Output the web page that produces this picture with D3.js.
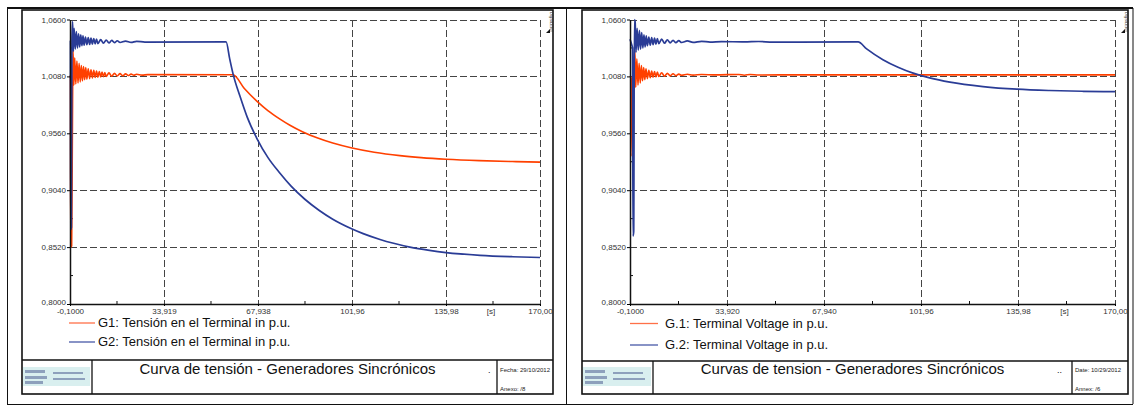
<!DOCTYPE html>
<meta charset="utf-8">
<style>
body { margin: 0; background: #fff; }
svg { font-family: "Liberation Sans", Arial, sans-serif; }
.tick text { fill: #333; }
.grid line { stroke: #444; stroke-width: 1; stroke-dasharray: 7,3; shape-rendering: crispEdges; }
.frame { fill: none; stroke: #111; }
</style>
<body>
<script src="https://d3js.org/d3.v7.min.js"></script>
<script>
// axis ticks (same y scale on both plots)
var yTicks = [0.8, 0.852, 0.904, 0.956, 1.008, 1.06];
var yLabels = ["0,8000", "0,8520", "0,9040", "0,9560", "1,0080", "1,0600"];
var xTicksLeft = [-0.1, 33.919, 67.938, 101.96, 135.98, 170.0];
var xLabelsLeft = ["-0,1000", "33,919", "67,938", "101,96", "135,98", "170,00"];
var xTicksRight = [-0.1, 33.92, 67.94, 101.96, 135.98, 170.0];
var xLabelsRight = ["-0,1000", "33,920", "67,940", "101,96", "135,98", "170,00"];

// left plot: [time s, voltage p.u.]
var g1Left = [[-0.1,1.0095],[0.05,1.0095],[0.15,0.852],[0.5,0.853],[0.75,0.95],[1.0,1.032],[1.3,1.000],
  [1.6,1.025],[2.0,1.001],[2.4,1.022],[2.8,1.002],[3.2,1.020],[3.6,1.003],[4.0,1.018],[4.4,1.004],
  [4.8,1.017],[5.2,1.005],[5.6,1.016],[6.0,1.0055],[6.5,1.015],[7.0,1.006],[7.5,1.014],[8.0,1.0065],
  [8.5,1.0135],[9.0,1.007],[9.5,1.013],[10,1.0072],[10.5,1.0125],[11,1.0075],[11.5,1.012],[12,1.0078],
  [12.5,1.0115],[13,1.008],[14,1.0112],[15,1.0082],[16,1.0108],[17,1.0084],[18,1.0105],[19,1.0086],
  [20,1.0103],[21,1.0088],[22,1.0101],[23,1.009],[24,1.0099],[26,1.0092],[28,1.0096],[58.9,1.0095],
  [63,0.9969],[67.6,0.9852],[71.5,0.9768],[75.9,0.9690],[79.5,0.9634],[84,0.9575],[89.3,0.9519],
  [95,0.9471],[101.6,0.9428],[110,0.9387],[119.3,0.9356],[127,0.9338],[136,0.9323],[148,0.9310],
  [160,0.9302],[170,0.9297]];
var g2Left = [[-0.1,1.041],[0.05,1.041],[0.15,0.868],[0.4,0.870],[0.6,1.04],[0.85,1.058],[1.1,1.031],
  [1.4,1.052],[1.8,1.033],[2.2,1.049],[2.6,1.034],[3.0,1.047],[3.4,1.035],[3.8,1.046],[4.2,1.036],
  [4.6,1.045],[5.0,1.0365],[5.5,1.044],[6.0,1.037],[6.5,1.0435],[7.0,1.0372],[7.5,1.043],[8.0,1.0375],
  [8.5,1.0425],[9.0,1.0378],[9.5,1.042],[10,1.038],[11,1.0416],[12,1.0383],[13,1.0412],[14,1.0386],
  [15,1.0409],[16,1.0388],[17,1.0406],[18,1.039],[20,1.0403],[22,1.0391],[24,1.0401],[27,1.0394],
  [56.4,1.0395],[57.7,1.024],[59,1.0094],[61.4,0.990],[64,0.971],[67.6,0.951],[71.5,0.934],
  [75.9,0.9195],[80,0.9075],[85,0.8955],[90,0.8857],[95,0.8775],[101.6,0.869],[106,0.8643],
  [112.1,0.859],[117,0.8555],[122.9,0.852],[130,0.849],[136,0.847],[148.3,0.8445],[160,0.8432],[170,0.8425]];

// right plot
var g1Right = [[-0.1,1.0085],[0.2,1.0075],[0.4,1.005],[0.6,0.935],[0.9,0.96],[1.3,1.02],[1.6,1.032],
  [1.9,0.998],[2.3,1.024],[2.7,1.000],[3.1,1.020],[3.5,1.002],[3.9,1.018],[4.3,1.004],[4.7,1.016],
  [5.1,1.005],[5.5,1.015],[6.0,1.006],[6.5,1.0135],[7.0,1.0068],[7.5,1.013],[8.0,1.0072],[8.5,1.0125],
  [9.0,1.0076],[9.5,1.012],[10,1.0079],[11,1.0113],[12,1.0082],[13,1.0108],[14,1.0085],[15,1.0104],
  [16,1.0087],[17,1.0101],[18,1.009],[20,1.0099],[22,1.0092],[25,1.0097],[30,1.0094],[38,1.0098],
  [40,1.0091],[42,1.0098],[45,1.0093],[60,1.0094],[120,1.0094],[170,1.0094]];
var g2Right = [[-0.1,1.042],[0.5,1.037],[0.8,1.034],[0.95,0.862],[1.2,0.866],[1.45,1.06],[1.7,1.058],
  [2.0,1.030],[2.4,1.052],[2.8,1.032],[3.2,1.050],[3.6,1.033],[4.0,1.048],[4.4,1.034],[4.8,1.046],
  [5.2,1.035],[5.6,1.045],[6.0,1.036],[6.5,1.044],[7.0,1.0365],[7.5,1.0435],[8.0,1.037],[8.5,1.043],
  [9.0,1.0375],[9.5,1.0425],[10,1.038],[11,1.042],[12,1.0383],[13,1.0415],[14,1.0386],[15,1.041],
  [16,1.0388],[17,1.0407],[18,1.039],[20,1.0404],[22,1.0391],[25,1.0401],[28,1.0393],[32,1.0398],
  [40,1.0395],[45,1.0399],[50,1.0393],[79.9,1.0395],[82.9,1.0331],[88.6,1.0233],[93.9,1.0164],
  [99.2,1.0110],[105,1.0066],[112.1,1.0027],[123.7,0.9987],[135.6,0.9963],[147,0.9951],
  [158.8,0.9944],[170,0.9940]];

var orange = "#ff4000", blue = "#2a3c96";
var legendColors = ["#ff7048", "#4858a8"];

var svg = d3.select("body").append("svg")
    .attr("width", 1135)
    .attr("height", 406);

// outer table lines
svg.append("line").attr("x1", 7).attr("x2", 1133).attr("y1", 8).attr("y2", 8).attr("stroke", "#111").attr("stroke-width", 2);
svg.append("line").attr("x1", 7).attr("x2", 1133).attr("y1", 404.5).attr("y2", 404.5).attr("stroke", "#111");
[7.5, 566.5, 1133].forEach(function(x) {
  svg.append("line").attr("x1", x).attr("x2", x).attr("y1", 8).attr("y2", 404).attr("stroke", "#111");
});

var panels = [
  { frame: [22, 10, 553, 394], plot: [70, 540], xTicks: xTicksLeft, xLabels: xLabelsLeft,
    series: [g1Left, g2Left], names: ["G1: Tensión en el Terminal in p.u.", "G2: Tensión en el Terminal in p.u."],
    legX: [69, 95, 98], legY: [323, 342], titleLine: 360, logoW: 70, dateX: 497,
    title: "Curva de tensión - Generadores Sincrónicos", titleX: 287.5, dots: ".", dotsX: 488,
    date: "Fecha: 29/10/2012", annex: "Anexo:  /8" },
  { frame: [582, 10, 1128, 394], plot: [630, 1115], xTicks: xTicksRight, xLabels: xLabelsRight,
    series: [g1Right, g2Right], names: ["G.1: Terminal Voltage in p.u.", "G.2: Terminal Voltage in p.u."],
    legX: [630, 658, 665], legY: [323.5, 345], titleLine: 361, logoW: 71, dateX: 1072,
    title: "Curvas de tension - Generadores Sincrónicos", titleX: 852.5, dots: "..", dotsX: 1057,
    date: "Date:  10/29/2012", annex: "Annex:  /6" }
];

panels.forEach(function(p) {
  var f = p.frame;
  var x = d3.scaleLinear().domain([-0.1, 170]).range(p.plot);
  var y = d3.scaleLinear().domain([0.8, 1.06]).range([304, 19.5]);

  // inner frame + title block
  svg.append("rect").attr("class", "frame")
      .attr("x", f[0]).attr("y", f[1]).attr("width", f[2] - f[0]).attr("height", f[3] - f[1])
      .attr("stroke-width", 1.6);
  svg.append("line").attr("x1", f[0]).attr("x2", f[2]).attr("y1", p.titleLine).attr("y2", p.titleLine)
      .attr("stroke", "#111").attr("stroke-width", 1.3);
  svg.append("line").attr("x1", f[0] + p.logoW).attr("x2", f[0] + p.logoW).attr("y1", p.titleLine).attr("y2", f[3])
      .attr("stroke", "#111").attr("stroke-width", 1.3);
  svg.append("line").attr("x1", p.dateX).attr("x2", p.dateX).attr("y1", p.titleLine).attr("y2", f[3])
      .attr("stroke", "#111").attr("stroke-width", 1.3);

  // logo stand-in
  var logo = svg.append("g").attr("transform", "translate(" + (f[0] + 1) + ",367)");
  logo.append("rect").attr("width", p.logoW - 3).attr("height", 19).attr("fill", "#d9efef");
  [[2,3,20,3],[2,9,22,3],[2,14,18,3],[30,5,30,2],[30,11,32,2]].forEach(function(r) {
    logo.append("rect").attr("x", r[0]).attr("y", r[1]).attr("width", r[2]).attr("height", r[3])
        .attr("fill", "#5a6a9a").attr("opacity", 0.6);
  });

  svg.append("text").attr("x", p.titleX).attr("y", 374).attr("text-anchor", "middle")
      .attr("font-size", "15px").attr("fill", "#111").text(p.title);
  svg.append("text").attr("x", p.dotsX).attr("y", 373).attr("font-size", "9px").attr("fill", "#111").text(p.dots);
  svg.append("text").attr("x", p.dateX + 3).attr("y", 372).attr("font-size", "6px").attr("fill", "#222").text(p.date);
  svg.append("text").attr("x", p.dateX + 3).attr("y", 391).attr("font-size", "6px").attr("fill", "#222").text(p.annex);

  // little tag top right
  svg.append("text").attr("transform", "translate(" + (f[2] - 3) + ",12) rotate(90)")
      .attr("font-size", "4px").attr("fill", "#333").text("DIgSILENT");
  svg.append("path").attr("d", "M" + (f[2] - 7) + ",33 l4,-4 v4 z").attr("fill", "#111");

  // grid
  var grid = svg.append("g").attr("class", "grid");
  grid.selectAll(".h").data(yTicks.slice(1)).enter().append("line")
      .attr("x1", p.plot[0]).attr("x2", p.plot[1])
      .attr("y1", function(d) { return Math.round(y(d)) + 0.5; })
      .attr("y2", function(d) { return Math.round(y(d)) + 0.5; });
  grid.selectAll(".v").data(p.xTicks.slice(1)).enter().append("line")
      .attr("y1", y(1.06)).attr("y2", y(0.8))
      .attr("x1", function(d) { return Math.round(x(d)) + 0.5; })
      .attr("x2", function(d) { return Math.round(x(d)) + 0.5; });

  // minor ticks at midpoints
  var minor = svg.append("g").attr("stroke", "#111");
  d3.range(yTicks.length - 1).forEach(function(i) {
    var yy = y((yTicks[i] + yTicks[i + 1]) / 2);
    minor.append("line").attr("x1", p.plot[0]).attr("x2", p.plot[0] + 3).attr("y1", yy).attr("y2", yy);
  });
  d3.range(p.xTicks.length - 1).forEach(function(i) {
    var xx = x((p.xTicks[i] + p.xTicks[i + 1]) / 2);
    minor.append("line").attr("x1", xx).attr("x2", xx).attr("y1", 304).attr("y2", 301);
  });

  // series
  var line = d3.line()
      .curve(d3.curveMonotoneX)
      .x(function(d) { return x(d[0]); })
      .y(function(d) { return y(d[1]); });
  svg.append("path").datum(p.series[0]).attr("d", line)
      .attr("fill", "none").attr("stroke", orange).attr("stroke-width", 1.6).attr("stroke-linejoin", "round");
  svg.append("path").datum(p.series[1]).attr("d", line)
      .attr("fill", "none").attr("stroke", blue).attr("stroke-width", 1.7).attr("stroke-linejoin", "round");

  // axes
  var yAxis = svg.append("g").attr("transform", "translate(" + p.plot[0] + ",0)")
      .call(d3.axisLeft(y).tickValues(yTicks).tickSize(3).tickSizeOuter(0).tickPadding(1)
        .tickFormat(function(d, i) { return yLabels[i]; }));
  var xAxis = svg.append("g").attr("transform", "translate(0,304)")
      .call(d3.axisBottom(x).tickValues(p.xTicks).tickSize(2).tickSizeOuter(0).tickPadding(2.3)
        .tickFormat(function(d, i) { return p.xLabels[i]; }));
  [yAxis, xAxis].forEach(function(a) {
    a.attr("font-family", null).attr("font-size", "8px");
    a.select(".domain").attr("stroke", "#111").attr("stroke-width", 1.5);
  });
  // lowest y label sits a touch higher so it clears the first x label
  yAxis.selectAll(".tick text").filter(function(d) { return d === 0.8; }).attr("dy", "0.1em");
  svg.append("text").attr("x", (x(135.98) + x(170)) / 2 - 2).attr("y", 314)
      .attr("text-anchor", "middle").attr("font-size", "8px").attr("fill", "#333").text("[s]");

  // legend
  legendColors.forEach(function(c, i) {
    svg.append("line").attr("x1", p.legX[0]).attr("x2", p.legX[1])
        .attr("y1", p.legY[i]).attr("y2", p.legY[i])
        .attr("stroke", c).attr("stroke-width", 1.3);
    svg.append("text").attr("x", p.legX[2]).attr("y", p.legY[i]).attr("dy", "0.33em")
        .attr("font-size", "13px").attr("fill", "#111").text(p.names[i]);
  });
});
</script>
</body>
